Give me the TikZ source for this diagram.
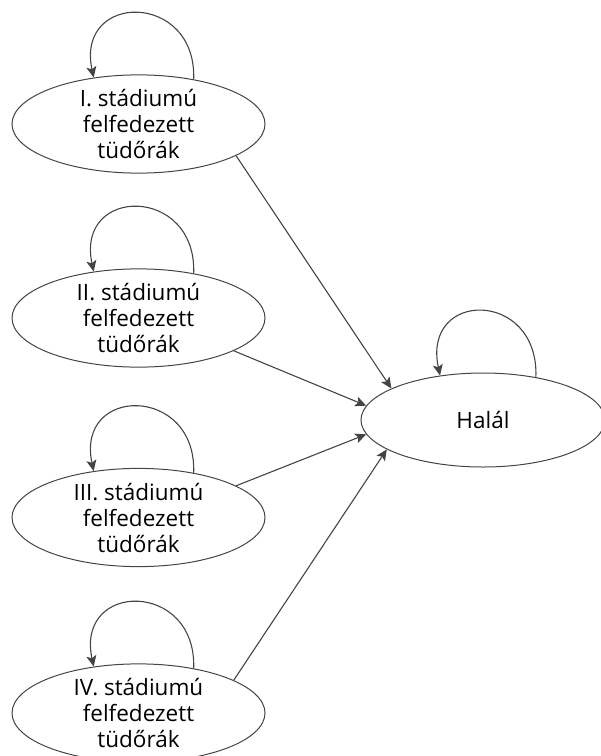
\documentclass[tikz,border=0pt]{standalone}
\usepackage{fontspec}
\setmainfont{Open Sans}
\usetikzlibrary{arrows.meta,shapes.geometric}
\definecolor{linec}{RGB}{68,68,68}
\begin{document}
\begin{tikzpicture}[x=1pt,y=1pt,
  state/.style={draw=linec, ellipse, line width=1pt, minimum width=253pt, minimum height=96pt, inner sep=0pt, align=center, font=\fontsize{22.5}{26}\selectfont},
  conn/.style={draw=linec, line width=1.1pt, -{Stealth[length=11pt,width=10pt,inset=2.5pt]}},
]
\useasboundingbox (0,0) rectangle (601,-756);
\node[state] (s1) at (138.5,-124) {I. stádiumú\\felfedezett\\tüdőrák};
\node[state] (s2) at (138.5,-318) {II. stádiumú\\felfedezett\\tüdőrák};
\node[state] (s3) at (138.5,-517.5) {III. stádiumú\\felfedezett\\tüdőrák};
\node[state] (s4) at (138.5,-713) {IV. stádiumú\\felfedezett\\tüdőrák};
\node[state, minimum width=244pt, minimum height=94pt] (h) at (483,-420) {Halál};

\foreach \n in {s1,s2,s3,s4,h}
  \draw[conn] (\n.39) .. controls +(88:88) and +(102:88) .. (\n.134);

\draw[conn] (s1.-18) -- (h.161);
\draw[conn] (s2.-19) -- (h.173);
\draw[conn] (s3.18.5) -- (h.187.5);
\draw[conn] (s4.19) -- (h.197);
\end{tikzpicture}
\end{document}
